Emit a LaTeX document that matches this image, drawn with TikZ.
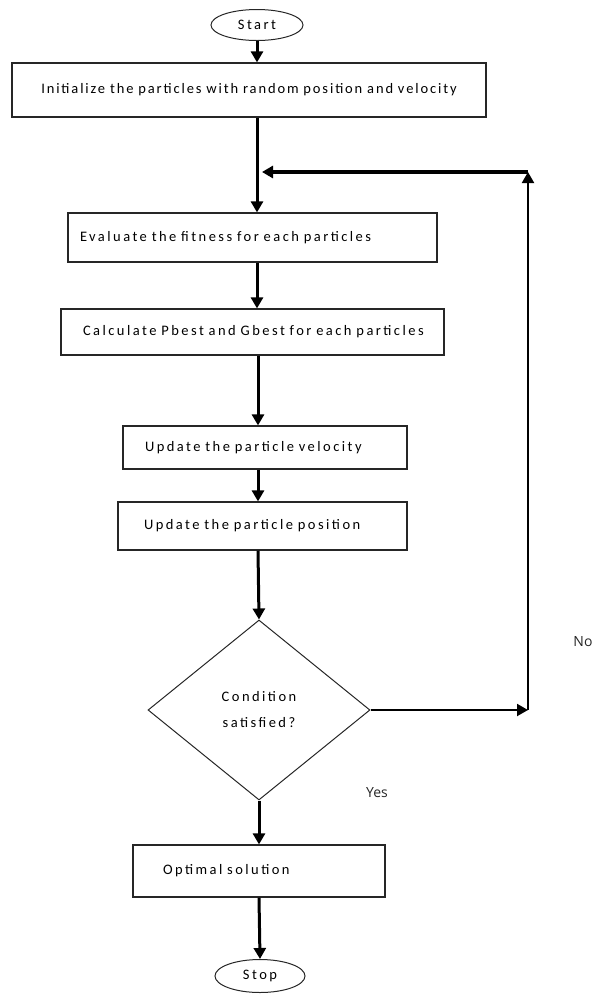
\documentclass[tikz,border=0pt]{standalone}
\usepackage{fontspec}
\setmainfont{Carlito}[LetterSpace=17.0]
\newfontfamily\labfont{Open Sans}
\usepackage{tikz}
\usetikzlibrary{shapes.geometric}
\usetikzlibrary{arrows.meta}
\tikzstyle{process}=[draw=black!85,line width=1.2pt,rectangle,inner ysep=0pt,align=left,font=\fontsize{14.5}{16}\selectfont]
\tikzstyle{terminal}=[draw=black!85,line width=1pt,ellipse,inner sep=0pt,font=\fontsize{14.5}{16}\selectfont]
\tikzstyle{decision}=[draw=black!85,line width=1pt,diamond,aspect=1.23,inner sep=0pt,align=center,font=\fontsize{14.5}{26}\selectfont]
\tikzstyle{flow}=[line width=3pt,-{Triangle[length=11pt,width=12pt]}]
\tikzstyle{back}=[line width=2pt,-{Triangle[length=11pt,width=12pt]}]
\tikzstyle{answer}=[font=\labfont\fontsize{14}{16}\selectfont,text=black!85]

\begin{document}
\begin{tikzpicture}[x=1pt,y=-1pt]
  \useasboundingbox (0,0) rectangle (605,1005);
  \node[terminal,minimum width=92pt,minimum height=31pt] (start) at (257,25) {Start};
  \node[process,align=center,inner xsep=6pt,text width=462pt,minimum height=54pt] (init) at (249,90) {\addfontfeature{LetterSpace=13.0}Initialize the particles with random position and velocity};
  \node[process,inner xsep=12pt,text width=345pt,minimum height=49pt] (fitness) at (252.5,237.5) {Evaluate the fitness for each particles};
  \node[process,inner xsep=22pt,text width=339pt,minimum height=46pt] (best) at (252.5,332) {Calculate Pbest and Gbest for each particles};
  \node[process,inner xsep=22pt,text width=240pt,minimum height=43pt] (velocity) at (265,447.5) {Update the particle velocity};
  \node[process,inner xsep=26pt,text width=237pt,minimum height=48pt] (position) at (262.5,526) {Update the particle position};
  \node[decision,minimum width=222pt,minimum height=180pt] (cond) at (259,710) {Condition\\satisfied?};
  \node[process,inner xsep=30pt,text width=192pt,minimum height=52pt] (optimal) at (259,871) {Optimal solution};
  \node[terminal,minimum width=90pt,minimum height=33pt] (stop) at (260,976) {Stop};
  \node[answer] (no) at (583,642) {No};
  \node[answer] (yes) at (377,793) {Yes};
  \coordinate (turn) at (528,717);
  \coordinate (top) at (528,172);
  \coordinate (join) at (262,172);

  \draw[flow] (start.south) -- (start.south |- init.north);
  \draw[flow] (257,0 |- init.south) -- (257,0 |- fitness.north);
  \draw[flow] (257,0 |- fitness.south) -- (257,0 |- best.north);
  \draw[flow] (258,0 |- best.south) -- (258,0 |- velocity.north);
  \draw[flow] (258,0 |- velocity.south) -- (258,0 |- position.north);
  \draw[flow] (258,0 |- position.south) -- (cond.north);
  \draw[flow] (cond.south) -- (cond.south |- optimal.north);
  \draw[flow] (259,0 |- optimal.south) -- (stop.north);
  \draw[back] (cond.east) -- (turn |- cond.east);
  \draw[back] (turn |- cond.east) -- (top);
  \draw[flow,line width=4pt] (top) -- (join);
\end{tikzpicture}
\end{document}
